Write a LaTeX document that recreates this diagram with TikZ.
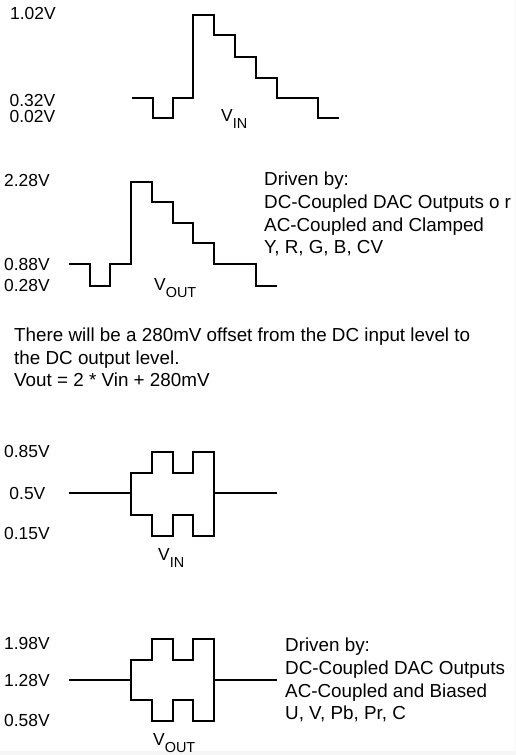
\documentclass[tikz,border=0pt]{standalone}
\usepackage{fontspec}
\setmainfont{Liberation Sans}
\usetikzlibrary{positioning}

\tikzset{
  wave/.style={line width=1.8bp, line join=miter},
  lbl/.style={anchor=base west, inner sep=0pt, font=\fontsize{17.5}{20}\selectfont},
  txt/.style={anchor=base west, inner sep=0pt, font=\fontsize{18.9}{22.7}\selectfont},
}
\newcommand{\vsig}[1]{V\raisebox{-7bp}{\fontsize{14.5}{14.5}\selectfont #1}}

\begin{document}
\begin{tikzpicture}[x=1bp, y=-1bp]
  \useasboundingbox (0,0) rectangle (516,755);
  % thin grey edges of the scan
  \fill[gray!7] (0,751) rectangle (516,755);
  \fill[gray!7] (515,0) rectangle (516,755);

  % DC input, stepped
  \draw[wave] (131.7,98.3) -| (152.7,118.3) -| (172.7,98.3) -| (193.3,15)
        -| (213.7,35) -| (235,56.7) -| (256,77.7) -| (276.7,98.3)
        -| (318.3,118.3) -- (339.3,118.3);
  \node[lbl] (inHi)  at (10,20)    {1.02V};
  \node[lbl] (inMid) at (9.5,106.7) {0.32V};
  \node[lbl] (inLo)  at (9.5,122.7) {0.02V};
  \node[lbl] (vinA)  at (221,121.7) {\vsig{IN}};

  % DC output, stepped
  \draw[wave] (69.3,264.3) -| (90,285.7) -| (110,264.3) -| (130.7,181.7)
        -| (152.3,201.7) -| (172.7,222.7) -| (193.3,243.3) -| (214.3,264.3)
        -| (256,285.7) -- (276.7,285.7);
  \node[lbl] (outHi)  at (4,186.7) {2.28V};
  \node[lbl] (outMid) at (4,270)   {0.88V};
  \node[lbl] (outLo)  at (4,291)   {0.28V};
  \node[lbl] (voutA)  at (154,290) {\vsig{OUT}};

  \node[txt] (drvA1) at (264,185.7) {Driven by:};
  \node[txt] (drvA2) at (264,208.4) {DC-Coupled DAC Outputs o\hspace{5bp}r};
  \node[txt] (drvA3) at (264,231.1) {AC-Coupled and Clamped};
  \node[txt] (drvA4) at (264,253.8) {Y, R, G, B, CV};

  % note on the offset
  \node[txt] (note1) at (14,341.7) {There will be a 280mV offset from the DC input level to};
  \node[txt] (note2) at (14,364.2) {the DC output level.};
  \node[txt] (note3) at (14,386.7) {Vout = 2 * Vin + 280mV};

  % AC input, biased
  \draw[wave] (69.3,493.3) -- (130.7,493.3);
  \draw[wave] (214.3,493.3) -- (276.7,493.3);
  \draw[wave] (130.7,493.3) |- (152.3,472.7) |- (172.7,451.7) |- (193.3,472.7)
        |- (214.3,451.7) -- (214.3,493.3);
  \draw[wave] (130.7,493.3) |- (152.3,515) |- (172.7,535.7) |- (193.3,515)
        |- (214.3,535.7) -- (214.3,493.3);
  \node[lbl] (acInHi)  at (4,457.7) {0.85V};
  \node[lbl] (acInMid) at (9.3,499) {0.5V};
  \node[lbl] (acInLo)  at (4,539)   {0.15V};
  \node[lbl] (vinB)    at (158,560) {\vsig{IN}};

  % AC output, biased
  \draw[wave] (69.3,680) -- (130.7,680);
  \draw[wave] (214.3,680) -- (276.7,680);
  \draw[wave] (130.7,680) |- (152.3,660) |- (172.7,639.3) |- (193.3,660)
        |- (214.3,639.3) -- (214.3,680);
  \draw[wave] (130.7,680) |- (152.3,700) |- (172.7,721) |- (193.3,700)
        |- (214.3,721) -- (214.3,680);
  \node[lbl] (acOutHi)  at (4,649)   {1.98V};
  \node[lbl] (acOutMid) at (4,686)   {1.28V};
  \node[lbl] (acOutLo)  at (4,726.7) {0.58V};
  \node[lbl] (voutB)    at (153,745) {\vsig{OUT}};

  \node[txt] (drvB1) at (285,651.7) {Driven by:};
  \node[txt] (drvB2) at (285,674.4) {DC-Coupled DAC Outputs};
  \node[txt] (drvB3) at (285,697.1) {AC-Coupled and Biased};
  \node[txt] (drvB4) at (285,719.8) {U, V, Pb, Pr, C};
\end{tikzpicture}
\end{document}
